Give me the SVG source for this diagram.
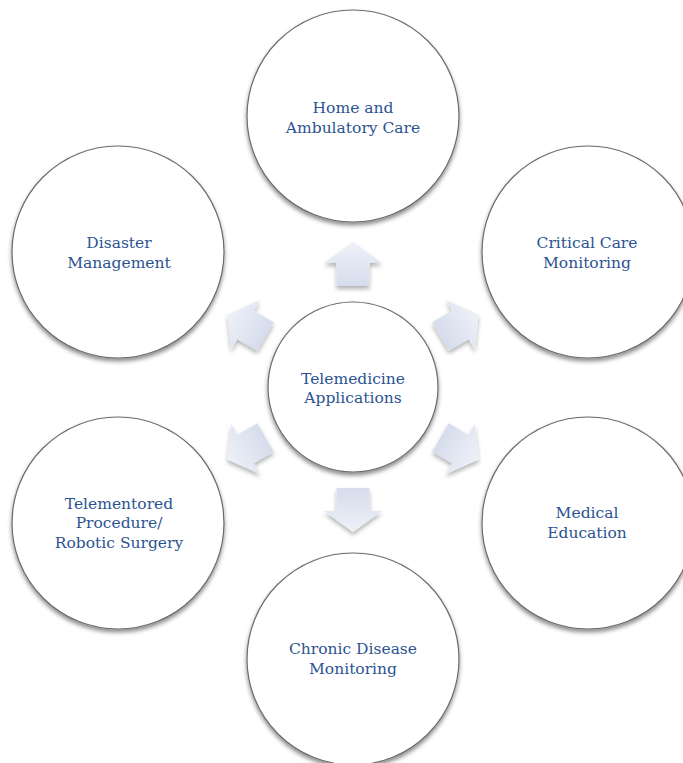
<svg xmlns="http://www.w3.org/2000/svg" xmlns:xlink="http://www.w3.org/1999/xlink" width="683" height="763" viewBox="0 0 683 763">
  <style>
    .node circle { fill: #ffffff; stroke: #6b6b6b; stroke-width: 1.2; }
    .node text { font-family: "DejaVu Serif", "Liberation Serif", serif; font-size: 15.5px; fill: #2c5391; text-anchor: middle; }
    .arrow { fill: url(#arrowFill); }
  </style>
  <defs>
    <filter id="circleShadow" x="-20%" y="-20%" width="140%" height="140%">
      <feDropShadow dx="0" dy="3" stdDeviation="2.2" flood-color="#000000" flood-opacity="0.45"/>
    </filter>
    <filter id="arrowShadow" x="-30%" y="-30%" width="160%" height="160%">
      <feDropShadow dx="0" dy="3" stdDeviation="2" flood-color="#000000" flood-opacity="0.3"/>
    </filter>
    <linearGradient id="arrowFill" x1="0" y1="0" x2="0" y2="1">
      <stop offset="0" stop-color="#eef1f8"/>
      <stop offset="1" stop-color="#d6dcec"/>
    </linearGradient>
    <!-- block arrow pointing up, placed above the hub centre (353,387) -->
    <polygon id="blockArrow" class="arrow" points="353,242 382,263 369.5,263 369.5,286 336.5,286 336.5,263 324,263"/>
  </defs>

  <rect width="683" height="763" fill="#ffffff"/>

  <!-- connectors: six block arrows radiating from the hub -->
  <g id="connectors">
    <g filter="url(#arrowShadow)"><use xlink:href="#blockArrow" transform="rotate(0 353 387)"/></g>
    <g filter="url(#arrowShadow)"><use xlink:href="#blockArrow" transform="rotate(60 353 387)"/></g>
    <g filter="url(#arrowShadow)"><use xlink:href="#blockArrow" transform="rotate(120 353 387)"/></g>
    <g filter="url(#arrowShadow)"><use xlink:href="#blockArrow" transform="rotate(180 353 387)"/></g>
    <g filter="url(#arrowShadow)"><use xlink:href="#blockArrow" transform="rotate(240 353 387)"/></g>
    <g filter="url(#arrowShadow)"><use xlink:href="#blockArrow" transform="rotate(300 353 387)"/></g>
  </g>

  <g id="hub" class="node">
    <circle cx="353" cy="387" r="85" filter="url(#circleShadow)"/>
    <text x="353" y="384">Telemedicine</text>
    <text x="353" y="403">Applications</text>
  </g>

  <g id="home-ambulatory" class="node">
    <circle cx="353" cy="116" r="106" filter="url(#circleShadow)"/>
    <text x="353" y="113">Home and</text>
    <text x="353" y="133">Ambulatory Care</text>
  </g>

  <g id="critical-care" class="node">
    <circle cx="588" cy="252" r="106" filter="url(#circleShadow)"/>
    <text x="587" y="248">Critical Care</text>
    <text x="587" y="268">Monitoring</text>
  </g>

  <g id="medical-education" class="node">
    <circle cx="588" cy="523" r="106" filter="url(#circleShadow)"/>
    <text x="587" y="518">Medical</text>
    <text x="587" y="538">Education</text>
  </g>

  <g id="chronic-disease" class="node">
    <circle cx="353" cy="659" r="106" filter="url(#circleShadow)"/>
    <text x="353" y="654">Chronic Disease</text>
    <text x="353" y="674">Monitoring</text>
  </g>

  <g id="telementored" class="node">
    <circle cx="118" cy="523" r="106" filter="url(#circleShadow)"/>
    <text x="119" y="509">Telementored</text>
    <text x="119" y="528">Procedure/</text>
    <text x="119" y="548">Robotic Surgery</text>
  </g>

  <g id="disaster" class="node">
    <circle cx="118" cy="252" r="106" filter="url(#circleShadow)"/>
    <text x="119" y="248">Disaster</text>
    <text x="119" y="268">Management</text>
  </g>
</svg>
